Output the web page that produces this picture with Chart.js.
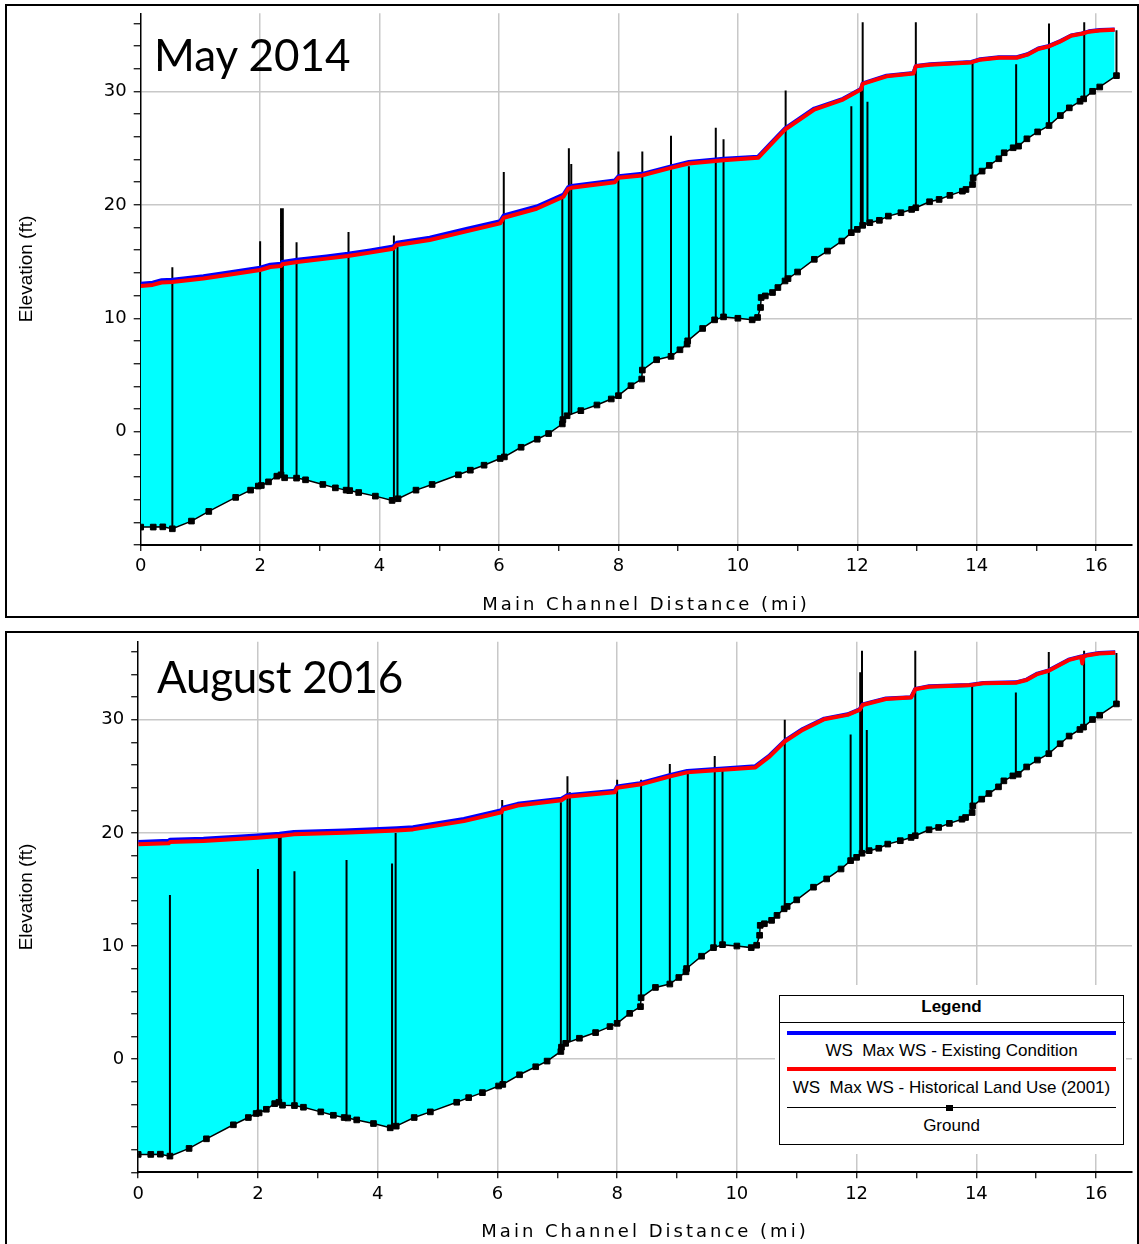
<!DOCTYPE html>
<html>
<head>
<meta charset="utf-8">
<title>Water surface profiles</title>
<script src="https://cdn.jsdelivr.net/npm/chart.js@4.4.1/dist/chart.umd.min.js"></script>
<style>
  body { margin:0; background:#fff; width:1139px; height:1244px; overflow:hidden; position:relative; }
  .frame { position:absolute; left:5px; width:1130px; border:2px solid #000; overflow:hidden; }
  #frameTop { top:4px; height:610px; }
  #frameBot { top:631px; height:620px; }
  canvas { display:block; }
  .panel-name { position:absolute; font-family:Lato, sans-serif; font-size:44px; line-height:44px; color:#000; white-space:nowrap; }
  #legendWrap { position:absolute; left:775px; top:985px; width:351px; height:169px; background:#fff; }
  #legend { position:absolute; left:4px; top:10px; width:343px; height:148px; border:1.5px solid #000; background:#fff;
    font-family:"Liberation Sans", Arial, sans-serif; font-size:17px; color:#000; }
  #legend .txt { position:absolute; left:0; width:100%; height:20px; line-height:20px; text-align:center; white-space:pre; }
  #legend .ttl { position:absolute; left:0; top:0; width:100%; height:22px; line-height:22px; text-align:center; font-weight:bold; }
  #legend .sep { position:absolute; left:-1.5px; width:346px; top:25.5px; height:1.5px; background:#000; }
  #legend .sw { position:absolute; left:6.5px; width:329.5px; }
</style>
</head>
<body>

<div class="frame" id="frameTop"><canvas id="may2014" width="1130" height="610"></canvas></div>
<div class="frame" id="frameBot"><canvas id="aug2016" width="1130" height="611"></canvas></div>

<div class="panel-name" style="left:154px; top:32px;">May 2014</div>
<div class="panel-name" style="left:157px; top:654px; letter-spacing:-0.3px;">August 2016</div>

<div id="legendWrap">
  <div id="legend">
    <div class="ttl">Legend</div>
    <div class="sep"></div>
    <div class="sw" style="top:34.5px; height:4px; background:#0000ff;"></div>
    <div class="txt" style="top:44.5px;">WS  Max WS - Existing Condition</div>
    <div class="sw" style="top:71.2px; height:4px; background:#ff0000;"></div>
    <div class="txt" style="top:81.5px;">WS  Max WS - Historical Land Use (2001)</div>
    <div class="sw" style="top:110.8px; height:1.5px; background:#000;"></div>
    <div style="position:absolute; left:166px; top:108.8px; width:7px; height:6px; background:#000;"></div>
    <div class="txt" style="top:119.5px;">Ground</div>
  </div>
</div>

<script>
// ground profile (shared by both events)
const groundMi = [0, 0.21, 0.37, 0.53, 0.85, 1.14, 1.59, 1.84, 1.97, 2.02, 2.14, 2.28, 2.35, 2.41, 2.61, 2.76,
  3.05, 3.26, 3.44, 3.5, 3.65, 3.93, 4.21, 4.31, 4.61, 4.88, 5.32, 5.52, 5.75, 6.02, 6.09, 6.37, 6.64, 6.83,
  7.06, 7.07, 7.14, 7.37, 7.64, 7.88, 8.0, 8.21, 8.39, 8.4, 8.64, 8.88, 9.03, 9.15, 9.16, 9.41, 9.61, 9.76,
  10.0, 10.24, 10.33, 10.38, 10.39, 10.46, 10.58, 10.67, 10.79, 10.84, 11.0, 11.28, 11.5, 11.74, 11.9, 12.0,
  12.09, 12.21, 12.37, 12.52, 12.73, 12.91, 12.98, 13.21, 13.37, 13.55, 13.76, 13.82, 13.93, 13.94, 14.09,
  14.21, 14.37, 14.46, 14.61, 14.7, 14.84, 15.02, 15.21, 15.4, 15.55, 15.73, 15.79, 15.94, 16.06, 16.34]
const groundEl = [-8.42, -8.42, -8.4, -8.57, -7.89, -7.04, -5.8, -5.16, -4.8, -4.75, -4.43, -3.93, -3.81, -4.07, -4.1, -4.25,
  -4.66, -4.96, -5.16, -5.2, -5.37, -5.69, -6.07, -5.92, -5.16, -4.66, -3.81, -3.4, -2.96, -2.37, -2.23, -1.38, -0.67, -0.17,
  0.68, 1.06, 1.4, 1.85, 2.35, 2.88, 3.17, 4.05, 4.64, 5.43, 6.34, 6.64, 7.22, 7.72, 8.01, 9.1, 9.86, 10.12,
  10.0, 9.86, 10.07, 10.95, 11.83, 11.97, 12.27, 12.71, 13.29, 13.5, 14.08, 15.2, 15.93, 16.81, 17.55, 17.84,
  18.2, 18.43, 18.64, 19.01, 19.31, 19.6, 19.75, 20.28, 20.48, 20.84, 21.21, 21.36, 21.8, 22.39, 22.98,
  23.48, 24.07, 24.6, 25.04, 25.18, 25.83, 26.44, 27.0, 27.88, 28.56, 29.14, 29.35, 30.02, 30.4, 31.4]

// May 2014 water surface
const mayMi = [0, 0.2, 0.35, 0.53, 1.05, 1.53, 2.0, 2.17, 2.35, 2.37, 2.62, 3.11, 3.47, 3.84, 4.23, 4.29, 4.84, 5.47,
  6.02, 6.08, 6.63, 7.08, 7.16, 7.21, 7.94, 8.0, 8.4, 8.88, 9.18, 9.76, 10.34, 10.55, 10.79, 11.28, 11.76, 12.06,
  12.09, 12.49, 12.94, 12.98, 13.22, 13.91, 14.06, 14.37, 14.67, 14.85, 15.03, 15.21, 15.4, 15.58, 15.76, 15.88, 16.06, 16.31]
const mayHist = [12.85, 12.94, 13.15, 13.2, 13.5, 13.88, 14.26, 14.52, 14.61, 14.76, 14.97, 15.26, 15.49, 15.79, 16.14, 16.46, 16.9, 17.69,
  18.37, 18.87, 19.66, 20.72, 21.42, 21.51, 22.0, 22.39, 22.6, 23.27, 23.65, 23.94, 24.15, 25.32, 26.65, 28.41, 29.29, 30.17,
  30.67, 31.34, 31.58, 32.22, 32.37, 32.57, 32.81, 32.98, 32.98, 33.25, 33.75, 33.98, 34.42, 34.92, 35.1, 35.28, 35.39, 35.45]
const mayExist = [13.05, 13.14, 13.35, 13.4, 13.7, 14.08, 14.46, 14.72, 14.81, 14.96, 15.17, 15.46, 15.69, 15.99, 16.34, 16.66, 17.1, 17.89,
  18.57, 19.07, 19.86, 20.92, 21.57, 21.66, 22.15, 22.52, 22.74, 23.4, 23.79, 24.06, 24.25, 25.42, 26.75, 28.5, 29.36, 30.22,
  30.72, 31.4, 31.63, 32.26, 32.41, 32.61, 32.85, 33.02, 33.02, 33.29, 33.79, 34.02, 34.45, 34.95, 35.13, 35.31, 35.42, 35.48]

// August 2016 water surface
const augMi = [0, 0.51, 0.53, 1.09, 1.99, 2.36, 2.6, 3.44, 4.32, 4.59, 5.44, 6.07, 6.09, 6.34, 7.07, 7.16, 7.96, 8.0,
  8.38, 8.89, 9.17, 9.65, 10.31, 10.55, 10.8, 11.1, 11.46, 11.85, 12.05, 12.1, 12.49, 12.91, 12.98, 13.21, 13.88,
  14.12, 14.66, 14.84, 15.02, 15.21, 15.54, 15.75, 15.77, 15.79, 15.87, 16.05, 16.32]
const augHist = [18.99, 19.08, 19.19, 19.28, 19.58, 19.72, 19.87, 20.02, 20.22, 20.31, 21.04, 21.83, 22.07, 22.42, 22.89, 23.2, 23.6, 23.98,
  24.27, 25.0, 25.35, 25.53, 25.79, 26.76, 28.08, 29.11, 30.05, 30.43, 30.87, 31.31, 31.84, 31.96, 32.69, 32.92, 33.04,
  33.22, 33.27, 33.51, 34.04, 34.33, 35.27, 35.56, 34.98, 35.6, 35.71, 35.86, 35.92]
const augExist = [19.2, 19.3, 19.4, 19.48, 19.78, 19.92, 20.07, 20.22, 20.42, 20.51, 21.24, 22.0, 22.22, 22.57, 23.02, 23.32, 23.72, 24.1,
  24.39, 25.12, 25.47, 25.64, 25.9, 26.86, 28.16, 29.18, 30.1, 30.48, 30.92, 31.36, 31.89, 32.0, 32.73, 32.96, 33.08,
  33.26, 33.31, 33.55, 34.08, 34.37, 35.31, 35.6, 35.6, 35.64, 35.75, 35.9, 35.96]

// structures drawn as vertical lines: station, base (ground) and top per event
const structMi = [0.53, 2.0, 2.35, 2.38, 2.61, 3.48, 4.24, 4.3, 6.08, 7.06, 7.17, 7.21, 8.0, 8.4, 8.88, 9.18, 9.63, 9.76,
  10.8, 11.9, 12.06, 12.09, 12.17, 12.98, 13.93, 14.66, 15.21, 15.8, 16.34]
const structBase = [-8.57, -4.78, -3.81, -3.94, -4.1, -5.19, -6.02, -5.94, -2.25, 0.68, 1.46, 1.54, 3.17, 5.43, 6.64, 8.1, 9.9, 10.12,
  13.33, 17.55, 18.06, 18.2, 18.35, 19.75, 21.8, 25.1, 27.0, 29.38, 31.4]
const mayTop = [14.5, 16.8, 19.7, 19.7, 16.7, 17.6, 17.3, 16.3, 22.9, 20.8, 25.0, 23.6, 24.7, 24.7, 26.1, 23.4, 26.8, 25.8,
  30.1, 28.7, 30.1, 36.1, 29.1, 36.1, 32.5, 32.4, 36.0, 36.1, 35.4]
const augTop = [14.5, 16.8, 20.0, 20.0, 16.6, 17.6, 17.3, 20.0, 22.9, 22.7, 25.0, 23.6, 24.7, 24.7, 26.1, 25.2, 26.8, 25.7,
  30.0, 28.7, 34.2, 36.1, 29.1, 36.1, 33.0, 32.4, 36.0, 36.1, 35.9]

const xMajor = [0, 2, 4, 6, 8, 10, 12, 14, 16]
const yMajor = [0, 10, 20, 30]

Chart.defaults.font.family = '"DejaVu Sans", sans-serif'

const axisTitles = {
  id: 'axisTitles',
  afterDraw(chart, args, o) {
    const ctx = chart.ctx
    ctx.save()
    ctx.fillStyle = '#000'
    ctx.textAlign = 'center'
    ctx.textBaseline = 'alphabetic'
    ctx.font = '18px "DejaVu Sans"'
    ctx.letterSpacing = '3px'
    ctx.fillText(o.x, o.xAt[0], o.xAt[1])
    ctx.letterSpacing = '0px'
    ctx.font = '19px "Liberation Sans"'
    ctx.translate(o.yAt[0], o.yAt[1])
    ctx.rotate(-Math.PI / 2)
    ctx.fillText(o.y, 0, 0)
    ctx.restore()
  }
}

const pts = (xs, ys) => xs.map((x, i) => ({x: x, y: ys[i]}))

function profile(id, mi, hist, exist, tops, area) {
  const struct = []
  structMi.forEach((s, i) => {
    struct.push({x: s, y: structBase[i]}, {x: s, y: tops[i]}, {x: s, y: null})
  })
  return new Chart(document.getElementById(id), {
    type: 'line',
    data: {
      datasets: [{
        label: 'WS  Max WS - Historical Land Use (2001)',
        data: pts(mi, hist),
        borderColor: '#ff0000', borderWidth: 4, borderJoinStyle: 'round',
        backgroundColor: '#00ffff', fill: 3,
        pointRadius: 0, order: 1
      }, {
        label: 'WS  Max WS - Existing Condition',
        data: pts(mi, exist),
        borderColor: '#0000ff', borderWidth: 4, borderJoinStyle: 'round',
        fill: false, pointRadius: 0, order: 2
      }, {
        label: 'Structures',
        data: struct,
        borderColor: '#000', borderWidth: 2,
        fill: false, pointRadius: 0, spanGaps: false, order: 3
      }, {
        label: 'Ground',
        data: pts(groundMi, groundEl),
        borderColor: '#000', borderWidth: 1.5,
        pointStyle: 'rect', pointRadius: 4, pointBorderWidth: 1,
        pointBackgroundColor: '#000', pointBorderColor: '#000',
        fill: false, order: 4
      }]
    },
    options: {
      responsive: false,
      animation: false,
      events: [],
      layout: { padding: { top: area.top, left: 0, right: 0, bottom: 0 } },
      plugins: {
        legend: { display: false },
        tooltip: { enabled: false },
        filler: { drawTime: 'beforeDatasetsDraw' },
        axisTitles: { x: 'Main Channel Distance (mi)', y: 'Elevation (ft)', xAt: area.xAt, yAt: area.yAt }
      },
      scales: {
        x: {
          type: 'linear', min: 0, max: 16.6,
          border: { color: '#000', width: 2 },
          grid: {
            color: c => (c.tick && c.tick.value !== 0 && xMajor.includes(c.tick.value)) ? '#c8c8c8' : 'rgba(0,0,0,0)',
            lineWidth: 1.5, tickColor: '#000', tickLength: 6, tickWidth: 1.2
          },
          ticks: {
            stepSize: 1, autoSkip: false, maxRotation: 0, includeBounds: false, padding: 5,
            color: '#000', font: { size: 18 },
            callback: v => xMajor.includes(v) ? String(v) : ''
          },
          afterFit: s => { s.height = area.xh; s.paddingLeft = 0; s.paddingRight = 0 }
        },
        y: {
          type: 'linear', min: -10, max: 36.9,
          border: { color: '#000', width: 1.5 },
          grid: {
            color: c => (c.tick && yMajor.includes(c.tick.value)) ? '#c8c8c8' : 'rgba(0,0,0,0)',
            lineWidth: 1.5, tickColor: '#000', tickLength: 7, tickWidth: 1.2
          },
          ticks: {
            stepSize: 2, autoSkip: false, includeBounds: false, padding: 7,
            color: '#000', font: { size: 18 },
            callback: v => yMajor.includes(v) ? String(v) : ''
          },
          afterFit: s => { s.width = area.left; s.paddingTop = 0; s.paddingBottom = 0 }
        }
      }
    },
    plugins: [axisTitles]
  })
}

profile('may2014', mayMi, mayHist, mayExist, mayTop,
  { top: 7.3, left: 133.7, xh: 71, xAt: [639, 604], yAt: [25, 263] })
profile('aug2016', augMi, augHist, augExist, augTop,
  { top: 8.7, left: 131.2, xh: 71.7, xAt: [638, 604], yAt: [25, 264] })
</script>
</body>
</html>
